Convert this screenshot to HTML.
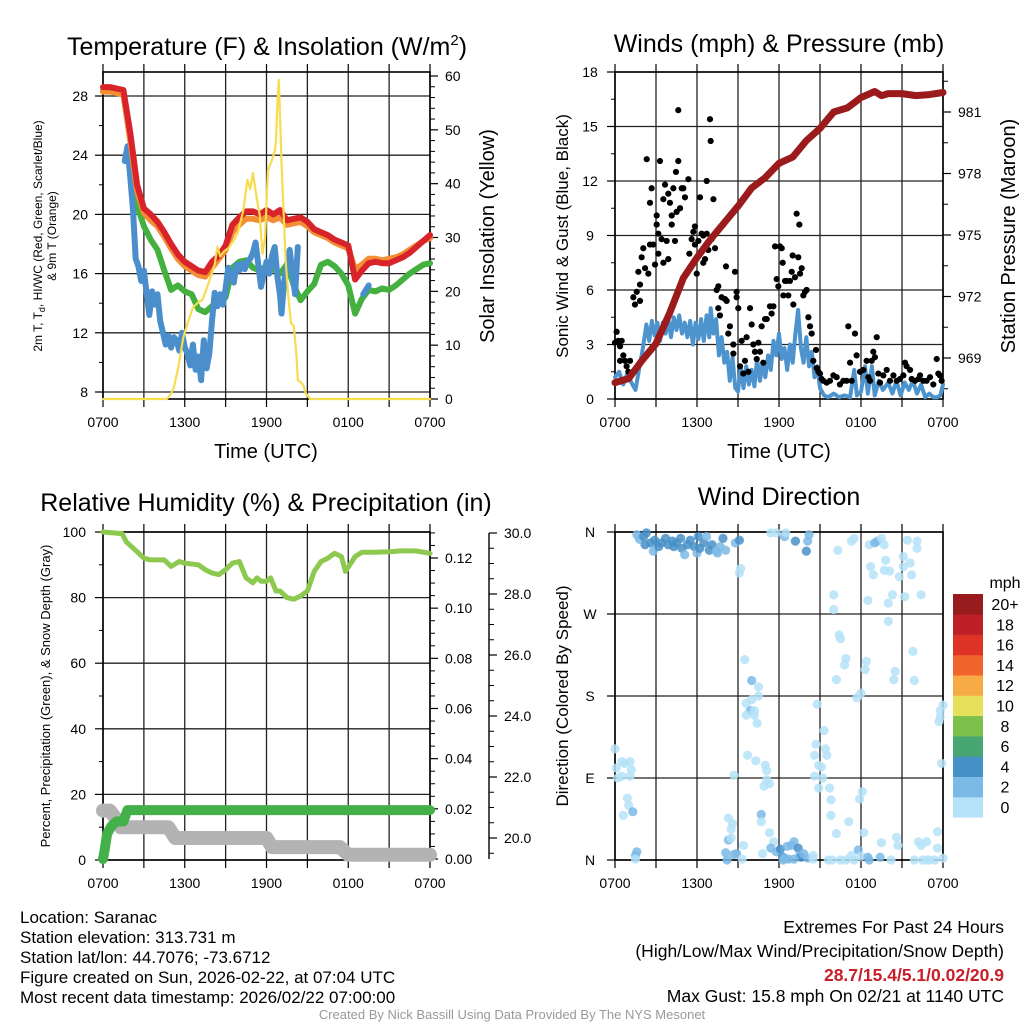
<!DOCTYPE html>
<html>
<head>
<meta charset="utf-8">
<style>
html,body{margin:0;padding:0;background:#fff;}
#wrap{position:relative;width:1024px;height:1024px;overflow:hidden;}
svg{position:absolute;left:0;top:0;}
text{font-family:"Liberation Sans",sans-serif;fill:#000;}
</style>
</head>
<body>
<div id="wrap">
<svg id="chart" width="1024" height="1024" viewBox="0 0 1024 1024">
  <text x="267" y="55" font-size="25" text-anchor="middle">Temperature (F) &amp; Insolation (W/m<tspan font-size="15" dy="-10">2</tspan><tspan dy="10">)</tspan></text>
  <text x="779" y="52" font-size="25" text-anchor="middle">Winds (mph) &amp; Pressure (mb)</text>
  <text x="266" y="511" font-size="25" text-anchor="middle">Relative Humidity (%) &amp; Precipitation (in)</text>
  <text x="779" y="505" font-size="25" text-anchor="middle">Wind Direction</text>

  <text x="266" y="458" font-size="20" text-anchor="middle">Time (UTC)</text>
  <text x="779" y="458" font-size="20" text-anchor="middle">Time (UTC)</text>

  <text transform="translate(42,236) rotate(-90)" font-size="12" text-anchor="middle">2m T, T<tspan font-size="9" dy="3">d</tspan><tspan dy="-3">, HI/WC (Red, Green, Scarlet/Blue)</tspan></text>
  <text transform="translate(56,236) rotate(-90)" font-size="12" text-anchor="middle">&amp; 9m T (Orange)</text>
  <text transform="translate(494,236) rotate(-90)" font-size="20" text-anchor="middle">Solar Insolation (Yellow)</text>
  <text transform="translate(568,236) rotate(-90)" font-size="17" text-anchor="middle">Sonic Wind &amp; Gust (Blue, Black)</text>
  <text transform="translate(1015,236) rotate(-90)" font-size="20" text-anchor="middle">Station Pressure (Maroon)</text>
  <text transform="translate(50,696) rotate(-90)" font-size="13" text-anchor="middle">Percent, Precipitation (Green), &amp; Snow Depth (Gray)</text>
  <text transform="translate(568,696) rotate(-90)" font-size="17" text-anchor="middle">Direction (Colored By Speed)</text>

  <g font-size="17">
    <text x="20" y="923">Location: Saranac</text>
    <text x="20" y="943">Station elevation: 313.731 m</text>
    <text x="20" y="963">Station lat/lon: 44.7076; -73.6712</text>
    <text x="20" y="983">Figure created on Sun, 2026-02-22, at 07:04 UTC</text>
    <text x="20" y="1003">Most recent data timestamp: 2026/02/22 07:00:00</text>
  </g>
  <g font-size="17.5" text-anchor="end">
    <text x="1004" y="933">Extremes For Past 24 Hours</text>
    <text x="1004" y="957">(High/Low/Max Wind/Precipitation/Snow Depth)</text>
    <text x="1004" y="981" font-weight="bold" style="fill:#c8202a">28.7/15.4/5.1/0.02/20.9</text>
    <text x="1004" y="1002">Max Gust: 15.8 mph On 02/21 at 1140 UTC</text>
  </g>
  <text x="512" y="1019" font-size="13" text-anchor="middle" style="fill:#999">Created By Nick Bassill Using Data Provided By The NYS Mesonet</text>
</svg>
</div>
<script>
// ---------- data ----------
const tHours = [0,0.5,1,1.5,2,2.5,3,3.5,4,4.5,5,5.5,6,6.5,7,7.5,8,8.5,9,9.5,10,10.5,11,11.5,12,12.5,13,13.5,14,14.5,15,15.5,16,16.5,17,17.5,18,18.5,19,19.5,20,20.5,21,21.5,22,22.5,23,23.5,24];
const tempRed = [28.6,28.6,28.5,28.4,25.5,22.0,20.4,20.0,19.5,18.8,18.0,17.3,16.8,16.5,16.2,16.1,16.8,17.2,17.9,19.3,19.8,20.2,20.2,20.0,20.3,20.0,20.3,19.6,19.7,19.8,19.5,19.0,18.8,18.6,18.3,18.1,17.9,15.6,16.2,16.7,16.8,16.7,16.7,16.9,17.1,17.4,17.8,18.2,18.6];
const temp9m = [28.3,28.3,28.2,28.1,25.0,21.6,20.1,19.6,19.2,18.5,17.7,17.0,16.5,16.2,15.9,15.8,16.4,17.0,17.6,18.8,19.3,19.7,19.7,19.6,19.8,19.6,19.8,19.3,19.4,19.5,19.2,18.8,18.6,18.4,18.1,17.9,17.7,16.3,16.6,17.0,17.0,16.9,17.0,17.1,17.3,17.6,17.9,18.2,18.4];
const dewGreen = [28.4,28.4,28.3,28.2,25.0,20.6,19.2,18.3,17.6,16.2,14.9,15.2,14.8,14.6,13.6,13.4,13.8,14.2,14.4,16.4,16.8,16.9,16.4,16.2,16.5,16.3,16.0,16.6,15.2,14.2,14.8,15.3,16.6,16.8,16.5,16.0,15.2,13.3,14.3,14.9,14.8,15.0,14.9,15.2,15.6,16.0,16.3,16.6,16.7];
const wcHours = [1.6,1.8,2.0,2.2,2.4,2.6,2.8,3.0,3.2,3.4,3.6,3.8,4.0,4.2,4.4,4.6,4.8,5.0,5.2,5.4,5.6,5.8,6.0,6.2,6.4,6.6,6.8,7.0,7.2,7.4,7.6,7.8,8.0,8.2,8.4,8.6,8.8,9.0,9.2,9.4,9.6,9.8,10.0,10.2,10.4,10.6,10.8,11.0,11.2,11.4,11.6,11.8,12.0,12.2,12.4,12.6,12.8,13.0,13.1,13.3,13.5,13.7,13.9,14.1,14.3,16.0,19.1,19.3,19.5];
const windChill = [23.6,24.6,22.5,20.3,17.0,16.5,15.5,16.2,14.7,13.2,14.8,13.9,14.6,12.8,12.0,11.2,11.8,11.0,11.7,11.5,10.8,12.0,11.0,10.6,9.8,11.2,9.5,10.4,8.8,11.5,9.6,10.6,12.8,14.7,13.8,14.6,13.9,15.0,16.4,16.0,15.4,16.6,16.2,16.7,16.3,16.8,17.0,17.4,18.1,16.6,15.1,16.0,16.8,16.0,17.2,17.8,15.8,14.5,13.3,15.5,16.6,17.6,16.0,14.6,17.8,null,14.6,14.9,15.2];
const solHours = [0,4.7,5.0,5.2,5.5,5.9,6.2,6.6,7.0,7.3,7.6,8.0,8.2,8.4,8.6,8.9,9.2,9.6,9.9,10.3,10.6,10.8,11.0,11.3,11.5,11.7,11.9,12.1,12.4,12.6,12.7,12.8,12.9,13.0,13.1,13.3,13.4,13.6,13.8,14.0,14.2,14.3,14.5,14.7,14.9,15.2,24];
const insolation = [0,0,1,2.2,5.5,11.5,14,17,18,18.4,20.5,23.4,25,28.3,26.5,27.5,28,29.5,31,35,40.7,39,42,37,34.2,27,30,42.5,44.4,46,48,55,59.3,52,44,32,25.8,19,14.1,13.5,8,3.5,3.2,2.5,1,0,0];

const windHours = [0,0.3,0.6,0.9,1.2,1.5,1.8,2.0,2.3,2.5,2.7,2.9,3.1,3.3,3.5,3.7,3.9,4.1,4.3,4.5,4.7,4.9,5.1,5.3,5.5,5.7,5.9,6.1,6.3,6.5,6.7,6.9,7.0,7.2,7.4,7.6,7.8,8.0,8.2,8.4,8.6,8.8,9.0,9.2,9.4,9.6,9.8,10.0,10.2,10.4,10.6,10.8,11.0,11.2,11.4,11.6,11.8,12.0,12.2,12.4,12.6,12.8,13.0,13.2,13.4,13.6,13.8,14.0,14.2,14.4,14.6,14.8,15.0,15.3,15.6,16.0,16.4,16.8,17.2,17.5,17.7,18.0,18.3,18.5,18.8,19.0,19.3,19.6,20.0,20.3,20.6,20.9,21.2,21.5,21.8,22.1,22.4,22.7,23.0,23.3,23.6,23.8,24.0];
const windSpeed = [1.2,1.5,0.8,1.4,0.9,0.5,1.8,2.6,4.1,3.2,4.3,3.5,4.2,3.2,4.2,3.6,4.4,3.4,4.5,3.8,4.6,3.6,4.2,3.4,4.3,3.0,4.2,3.3,4.4,3.2,4.6,3.4,5.0,3.6,4.4,2.4,3.4,2.0,2.6,1.0,2.3,0.6,0.4,1.8,0.6,1.8,0.8,1.6,0.7,2.2,1.0,2.0,1.2,2.4,1.6,3.2,2.4,3.6,2.2,2.8,1.6,3.0,2.0,3.6,4.9,2.8,2.0,3.4,1.8,2.6,1.2,1.8,0.6,0.2,0.1,0.3,0.1,0.2,0.1,1.6,0.2,0.4,1.8,0.3,1.8,0.2,1.0,0.5,0.9,0.3,1.0,0.2,0.9,0.5,1.0,0.3,0.8,0.1,0.3,0.1,0.1,0.2,0.8];
const gustHours = [0.00,0.12,0.24,0.37,0.49,0.61,0.37,0.73,0.85,1.10,0.98,1.34,1.46,1.59,1.71,1.83,1.83,1.95,2.07,2.20,2.32,2.44,2.56,2.68,2.56,2.80,2.93,3.05,3.05,3.17,3.17,3.29,3.41,3.54,3.54,3.66,3.78,3.90,3.90,4.02,4.15,4.15,4.27,4.39,4.46,4.51,4.63,4.63,4.76,4.88,5.00,5.12,5.37,5.44,5.61,5.73,5.85,5.98,5.85,6.10,6.22,6.34,6.46,6.46,6.59,6.71,6.71,6.83,6.95,7.00,7.07,7.20,7.32,7.44,7.56,7.56,7.68,7.80,7.93,8.05,8.12,8.17,8.29,8.41,8.66,8.66,8.78,8.90,8.90,9.02,9.15,9.27,9.39,9.51,9.63,9.76,9.88,10.00,10.12,10.24,10.37,10.49,10.61,10.73,10.85,10.98,11.10,11.34,11.46,11.59,11.71,11.83,11.95,12.07,12.20,12.27,12.32,12.44,12.56,12.68,12.80,12.93,13.00,13.05,13.17,13.29,13.41,13.49,13.54,13.66,13.78,13.90,14.02,14.15,14.27,14.39,14.51,14.71,14.76,14.88,15.00,15.12,15.24,15.49,15.73,15.98,16.22,16.46,16.71,16.95,17.07,17.20,17.32,17.56,17.68,17.93,18.17,18.41,18.54,18.66,18.78,18.90,19.02,19.15,19.27,19.39,19.63,19.88,20.12,20.37,20.61,20.85,21.10,21.22,21.34,21.59,21.71,21.95,22.20,22.32,22.56,22.80,23.05,23.29,23.54,23.66,23.78,23.90];
const gustSpeed = [3.1,3.7,3.2,2.9,3.2,2.4,2.1,2.1,1.8,2.1,1.5,5.6,5.2,5.9,7.0,6.3,5.4,7.8,8.3,7.2,13.2,6.9,10.8,11.6,8.5,8.5,7.4,10.1,9.6,8.0,9.1,13.1,8.8,11.0,7.5,11.8,8.7,11.3,7.7,10.8,9.6,10.1,11.6,8.7,12.5,10.3,13.1,15.9,10.5,11.6,11.6,11.1,12.1,8.0,8.8,9.2,9.5,6.9,8.5,8.7,11.1,9.1,9.0,7.5,7.7,9.1,12.0,8.2,15.4,14.2,8.8,11.0,8.3,6.0,6.2,5.0,4.6,5.6,9.6,5.5,7.3,5.4,3.6,4.0,3.0,2.5,7.0,5.9,5.6,5.0,1.8,3.2,1.4,2.1,3.4,1.5,5.0,4.1,3.0,2.6,2.2,3.1,2.6,4.0,2.0,4.4,4.4,5.1,4.7,5.1,8.4,6.6,6.2,8.4,8.3,7.5,5.7,6.5,6.5,5.7,6.5,7.0,7.9,5.2,6.7,10.2,7.8,9.6,6.9,7.2,5.7,5.9,6.0,4.5,4.0,3.6,2.1,2.7,1.7,1.5,1.4,1.1,1.0,0.9,1.0,1.3,1.2,0.8,1.0,1.0,4.0,2.0,1.0,3.6,2.4,1.5,1.6,2.1,1.2,1.0,2.1,2.6,2.3,3.4,1.4,0.9,1.3,1.6,1.0,1.3,1.0,1.1,1.3,2.0,1.8,1.6,1.1,1.0,1.1,1.3,1.0,1.0,1.2,0.8,2.2,1.4,1.3,1.0];
const presHours = [0,1,2,3,4,5,6,7,8,9,10,11,12,13,14,15,16,17,18,19,19.5,20,21,22,23,24];
const pressure = [967.8,968.0,968.9,969.7,971.2,972.9,973.9,974.8,975.6,976.4,977.3,977.8,978.5,978.8,979.6,980.2,981.0,981.2,981.7,982.0,981.8,981.9,981.9,981.8,981.85,981.95];

const rhHours = [0,1.4,1.7,2.5,3,3.5,4.5,5,5.6,6,7,7.5,8,8.5,9,9.5,10,10.5,11,11.3,11.6,12,12.3,12.7,13,13.5,14,14.5,15,15.5,16,16.5,17,17.5,17.8,18.5,19,20,21,22,23,24];
const humidity = [100,99.5,97,94,92,91.5,91.5,89.5,91,90.5,90,88.5,87.5,87,88.5,90.5,91,86,84.5,86,85,85,86,82,82,80,79.5,80.5,82,88,91,92,93.5,92.5,88,92.5,93.8,93.8,94,94.3,94.2,93.5];
const precipHours = [0,0.1,0.3,0.6,1.0,1.5,1.8,24];
const precip = [0,0.003,0.01,0.013,0.015,0.015,0.0195,0.0195];
const snowHours = [0,0.5,1.0,1.3,4.8,5.3,12.0,12.4,17.4,18.0,24];
const snowDepth = [20.9,20.9,20.6,20.35,20.35,20.0,20.0,19.7,19.7,19.45,19.45];

const dirHours = [1.6,1.8,2.1,2.3,2.2,2.6,2.8,2.9,3.2,3.4,3.7,3.9,4.2,4.3,4.5,4.8,4.9,5.1,5.3,5.5,5.8,6.0,6.1,6.2,6.5,6.7,6.9,7.1,7.4,7.5,7.7,7.9,8.1,8.8,9.1,9.2,9.1,11.4,11.8,12.4,12.5,13.2,14.0,14.1,14.2,16.3,17.3,17.5,18.6,19.0,19.2,19.5,19.7,18.7,18.9,19.7,19.8,20.1,20.8,21.1,21.1,21.4,22.1,22.1,21.6,21.7,16.0,16.0,18.5,20.0,20.3,20.0,21.2,22.4,
16.4,16.5,16.9,16.8,18.4,18.3,16.2,20.5,20.4,21.8,21.9,18.0,17.7,14.8,15.3,14.7,15.4,14.6,15.5,14.9,15.1,14.6,15.2,14.9,15.7,15.8,15.8,16.2,17.1,18.1,17.9,18.2,24.0,23.8,23.8,23.7,23.9,
0.0,0.1,0.2,0.5,0.7,1.1,1.2,1.1,0.5,0.9,1.0,0.6,1.3,1.5,1.6,1.5,
9.5,10.0,10.5,10.5,10.0,9.6,9.9,10.2,9.6,10.2,10.4,9.7,10.3,11.0,11.1,11.1,11.3,10.9,8.7,8.3,8.6,8.5,10.7,10.7,11.3,11.6,8.3,8.5,9.4,8.1,8.9,8.7,8.2,9.3,10.8,
11.4,11.8,12.1,12.3,12.4,12.6,12.9,13.1,13.4,13.5,13.6,13.8,14.1,14.5,14.5,12.3,12.7,13.1,
15.6,15.9,16.5,16.9,17.3,17.5,17.8,18.0,18.5,18.6,19.4,20.2,19.5,20.6,20.7,21.9,22.2,22.4,22.8,22.5,23.0,23.4,23.6,23.6,24.0,22.8];
const dirDegrees = [357,352,355,359,346,348,339,351,344,348,353,346,350,344,348,353,342,335,346,351,344,337,355,342,348,355,340,346,339,337,344,353,340,348,351,320,315,359,359,355,359,350,339,350,357,340,350,353,346,348,350,353,346,322,313,318,329,317,311,333,322,351,350,342,326,313,291,275,285,282,291,262,289,291,
247,243,221,214,218,209,198,207,198,229,197,183,178,171,142,127,122,115,115,104,102,92,90,79,79,66,49,29,42,75,67,30,170,164,157,152,106,
122,101,90,108,106,108,99,92,92,68,60,49,53,5,9,1,
220,197,190,180,176,172,164,164,159,159,150,115,109,104,98,88,84,81,93,46,40,34,50,42,30,20,22,24,16,8,7,6,0,1,7,
13,9,12,3,2,15,16,20,13,5,3,7,2,5,1,0,1,1,
0,0,0,0,5,0,11,4,3,0,3,0,19,25,16,0,20,16,20,0,0,0,13,31,2,0];
const dirSpeed = [2.5,2.5,4.5,4.5,4.5,4.5,2.5,4.5,4.5,4.5,4.5,4.5,4.5,4.5,4.5,4.5,4.5,2.5,4.5,4.5,4.5,2.5,4.5,4.5,4.5,2.5,4.5,4.5,2.5,2.5,2.5,4.5,2.5,2.5,4.5,0.5,0.5,0.5,0.5,2.5,0.5,4.5,4.5,2.5,2.5,0.5,0.5,0.5,0.5,2.5,2.5,0.5,0.5,0.5,0.5,0.5,0.5,0.5,0.5,0.5,0.5,0.5,0.5,0.5,0.5,0.5,0.5,0.5,0.5,0.5,0.5,0.5,0.5,0.5,
0.5,0.5,0.5,0.5,0.5,0.5,0.5,0.5,0.5,0.5,0.5,0.5,0.5,0.5,0.5,0.5,0.5,0.5,0.5,0.5,0.5,0.5,0.5,0.5,0.5,0.5,0.5,0.5,0.5,0.5,0.5,0.5,0.5,0.5,0.5,0.5,0.5,
0.5,0.5,0.5,0.5,0.5,0.5,0.5,0.5,0.5,0.5,0.5,0.5,2.5,2.5,2.5,0.5,
0.5,2.5,0.5,0.5,0.5,0.5,2.5,0.5,0.5,0.5,0.5,0.5,0.5,0.5,0.5,0.5,0.5,0.5,0.5,0.5,0.5,0.5,2.5,0.5,0.5,0.5,2.5,0.5,0.5,2.5,2.5,2.5,2.5,0.5,0.5,
2.5,2.5,4.5,4.5,2.5,2.5,2.5,2.5,4.5,2.5,4.5,2.5,2.5,0.5,0.5,2.5,2.5,2.5,
0.5,0.5,0.5,0.5,0.5,0.5,2.5,0.5,2.5,2.5,2.5,0.5,0.5,0.5,0.5,0.5,0.5,0.5,0.5,0.5,0.5,0.5,0.5,0.5,0.5,0.5];

const speedBins = ['0','2','4','6','8','10','12','14','16','18','20+'];
const binColors = ['#b5e2f8','#7bbae6','#4690c8','#47a671','#7cc14b','#e6e05b','#f6ab46','#f0632a','#de3427','#bf1f26','#981b1e'];
const timeTickLabels = ['0700','1300','1900','0100','0700'];

// ---------- helpers ----------
const NS = 'http://www.w3.org/2000/svg';
const svg = document.getElementById('chart');
function mk(tag, attrs, parent) {
  const e = document.createElementNS(NS, tag);
  for (const k in attrs) e.setAttribute(k, attrs[k]);
  (parent || svg).appendChild(e);
  return e;
}
function scale(d0, d1, r0, r1) { return v => r0 + (v - d0) * (r1 - r0) / (d1 - d0); }

const P1 = {x0:103, x1:430, y0:72, y1:399};
const P2 = {x0:615, x1:943, y0:72, y1:399};
const P3 = {x0:103, x1:430, y0:532, y1:860};
const P4 = {x0:615, x1:943, y0:532, y1:860};
function xAxis(P) { return scale(0, 24, P.x0, P.x1); }

function frame(P, name, yScale, gridVals, leftTicks, leftMinor, leftFmt, leftAnchor, leftX) {
  const g = mk('g', {});
  
  
  const xs = xAxis(P);
  for (let h = 0; h <= 24; h += 3) {
    const x = xs(h);
    const gl = mk('line', {x1:x, x2:x, y1:P.y0, y2:P.y1, stroke:'#222', 'stroke-width':1.3}, g);
    
    
    const tt = mk('line', {x1:x, x2:x, y1:P.y0 - 8, y2:P.y0, stroke:'#000', 'stroke-width':1.2}, g);
    
    
    const bt = mk('line', {x1:x, x2:x, y1:P.y1, y2:P.y1 + 8, stroke:'#000', 'stroke-width':1.2}, g);
    
    
  }
  timeTickLabels.forEach((lab, i) => {
    const t = mk('text', {x:xs(i * 6), y:P.y1 + 28, 'font-size':14, 'text-anchor':'middle'}, g);
    
    
    t.textContent = lab;
  });
  gridVals.forEach(v => {
    const y = yScale(v);
    const gl = mk('line', {x1:P.x0, x2:P.x1, y1:y, y2:y, stroke:'#222', 'stroke-width':1.3}, g);
    
    
  });
  leftTicks.forEach(v => {
    const y = yScale(v);
    const tk = mk('line', {x1:P.x0 - 8, x2:P.x0, y1:y, y2:y, stroke:'#000', 'stroke-width':1.2}, g);
    
    
    const t = mk('text', {x:leftX, y:y + 5, 'font-size':14, 'text-anchor':leftAnchor}, g);
    
    
    t.textContent = leftFmt(v);
  });
  leftMinor.forEach(v => {
    const y = yScale(v);
    const tk = mk('line', {x1:P.x0 - 4, x2:P.x0, y1:y, y2:y, stroke:'#000', 'stroke-width':1}, g);
    
    
  });
  const fr = mk('rect', {x:P.x0, y:P.y0, width:P.x1 - P.x0, height:P.y1 - P.y0, fill:'none', stroke:'#000', 'stroke-width':1.6}, g);
  
  
  return g;
}
function rightAxis(x, yScale, majors, minors, fmt, name, len) {
  const g = mk('g', {});
  
  
  majors.forEach(v => {
    const y = yScale(v);
    const tk = mk('line', {x1:x, x2:x + len, y1:y, y2:y, stroke:'#000', 'stroke-width':1.2}, g);
    
    
    const t = mk('text', {x:x + len + 7, y:y + 5, 'font-size':14}, g);
    
    
    t.textContent = fmt(v);
  });
  minors.forEach(v => {
    const y = yScale(v);
    const tk = mk('line', {x1:x, x2:x + 5, y1:y, y2:y, stroke:'#000', 'stroke-width':1}, g);
    
    
  });
  return g;
}
function line(xs, ys, hours, vals, color, width, name, extra) {
  let d = '', pen = false;
  for (let i = 0; i < hours.length; i++) {
    if (vals[i] === null || vals[i] === undefined) { pen = false; continue; }
    d += (pen ? 'L' : 'M') + xs(hours[i]).toFixed(1) + ',' + ys(vals[i]).toFixed(1);
    pen = true;
  }
  const p = mk('path', Object.assign({d:d, fill:'none', stroke:color, 'stroke-width':width, 'stroke-linejoin':'round', 'stroke-linecap':'round'}, extra || {}));
  
  
  return p;
}
function range(a, b, s) { const r = []; for (let v = a; v <= b + 1e-9; v += s) r.push(+v.toFixed(4)); return r; }

// ---------- panel 1: temperature ----------
const x1s = xAxis(P1);
const yTemp = scale(28, 8, 96, 392);
const ySol = scale(0, 60, 399, 76);
frame(P1, 'temperature', yTemp, [8,12,16,20,24,28], [8,12,16,20,24,28], [10,14,18,22,26], v => String(v), 'end', 88);
rightAxis(P1.x1, ySol, [0,10,20,30,40,50,60], range(2, 58, 2).filter(v => v % 10 !== 0), v => String(v), 'insolation-axis', 8);
line(x1s, yTemp, tHours, dewGreen, '#44b03f', 6, 'dewpoint-line');
line(x1s, yTemp, wcHours, windChill, '#4a8fcb', 6, 'wind-chill-line');
line(x1s, yTemp, tHours, temp9m, '#f58d35', 6, 'temp-9m-line');
line(x1s, yTemp, tHours, tempRed, '#d8232a', 6, 'temp-2m-line');
line(x1s, ySol, solHours, insolation, '#f7dc4d', 2.2, 'insolation-line');

// ---------- panel 2: winds ----------
const x2s = xAxis(P2);
const yWind = scale(0, 18, 399, 72);
const yPres = scale(969, 981, 358, 112);
frame(P2, 'winds', yWind, [0,3,6,9,12,15,18], [0,3,6,9,12,15,18], range(1.5, 16.5, 3), v => String(v), 'middle', 590);
rightAxis(P2.x1, yPres, [969,972,975,978,981], range(967.5, 982.5, 1.5).filter(v => (v - 969) % 3 !== 0), v => String(v), 'pressure-axis', 8);
line(x2s, yWind, windHours, windSpeed, '#4d94cf', 4, 'wind-speed-line');
const gg = mk('g', {fill:'#000'});


gustHours.forEach((h, i) => {
  const c = mk('circle', {cx:x2s(h), cy:yWind(gustSpeed[i]), r:3.1}, gg);
  
  
});
line(x2s, yPres, presHours, pressure, '#9b1b1d', 7, 'pressure-line');

// ---------- panel 3: humidity ----------
const x3s = xAxis(P3);
const yRH = scale(0, 100, 860, 532);
const yPrec = scale(0, 0.12, 859, 558);
const ySnow = scale(20, 30, 838, 533);
frame(P3, 'humidity', yRH, [0,20,40,60,80,100], [0,20,40,60,80,100], [10,30,50,70,90], v => String(v), 'end', 86);
rightAxis(P3.x1, yPrec, [0,0.02,0.04,0.06,0.08,0.10,0.12], range(0.005, 0.13, 0.005).filter(v => Math.round(v * 1000) % 20 !== 0), v => v.toFixed(2), 'precip-axis', 8);
const sa = mk('line', {x1:489, x2:489, y1:533, y2:859, stroke:'#000', 'stroke-width':1.4});


rightAxis(489, ySnow, [20,22,24,26,28,30], range(19.5, 29.5, 0.5).filter(v => v % 2 !== 0), v => v.toFixed(1), 'snow-axis', 8);
line(x3s, ySnow, snowHours, snowDepth, '#b3b3b3', 14, 'snow-depth-line');
line(x3s, yPrec, precipHours, precip, '#44b04a', 10, 'precip-line');
line(x3s, yRH, rhHours, humidity, '#8dc84f', 5, 'humidity-line');

// ---------- panel 4: wind direction ----------
const x4s = xAxis(P4);
const yDir = scale(0, 360, 860, 532);
const dirNames = ['N','E','S','W','N'];
frame(P4, 'direction', yDir, [0,90,180,270,360], [0,90,180,270,360], [], v => dirNames[v / 90], 'middle', 590);
const dg = mk('g', {});


dirHours.forEach((h, i) => {
  const b = Math.min(10, Math.floor(dirSpeed[i] / 2));
  const c = mk('circle', {cx:x4s(h), cy:yDir(dirDegrees[i]), r:4.6, fill:binColors[b], 'fill-opacity':0.85}, dg);
  
  
});

// colorbar
const cb = mk('g', {});


const cbt = mk('text', {x:1005, y:588, 'font-size':16, 'text-anchor':'middle'}, cb);


cbt.textContent = 'mph';
speedBins.forEach((lab, i) => {
  const k = speedBins.length - 1 - i;
  const top = 594 + k * 20.3;
  const r = mk('rect', {x:953, y:top, width:30, height:20.6, fill:binColors[i]}, cb);
  
  
  const t = mk('text', {x:1005, y:top + 16, 'font-size':16, 'text-anchor':'middle'}, cb);
  
  
  t.textContent = lab;
});
</script>
</body>
</html>
